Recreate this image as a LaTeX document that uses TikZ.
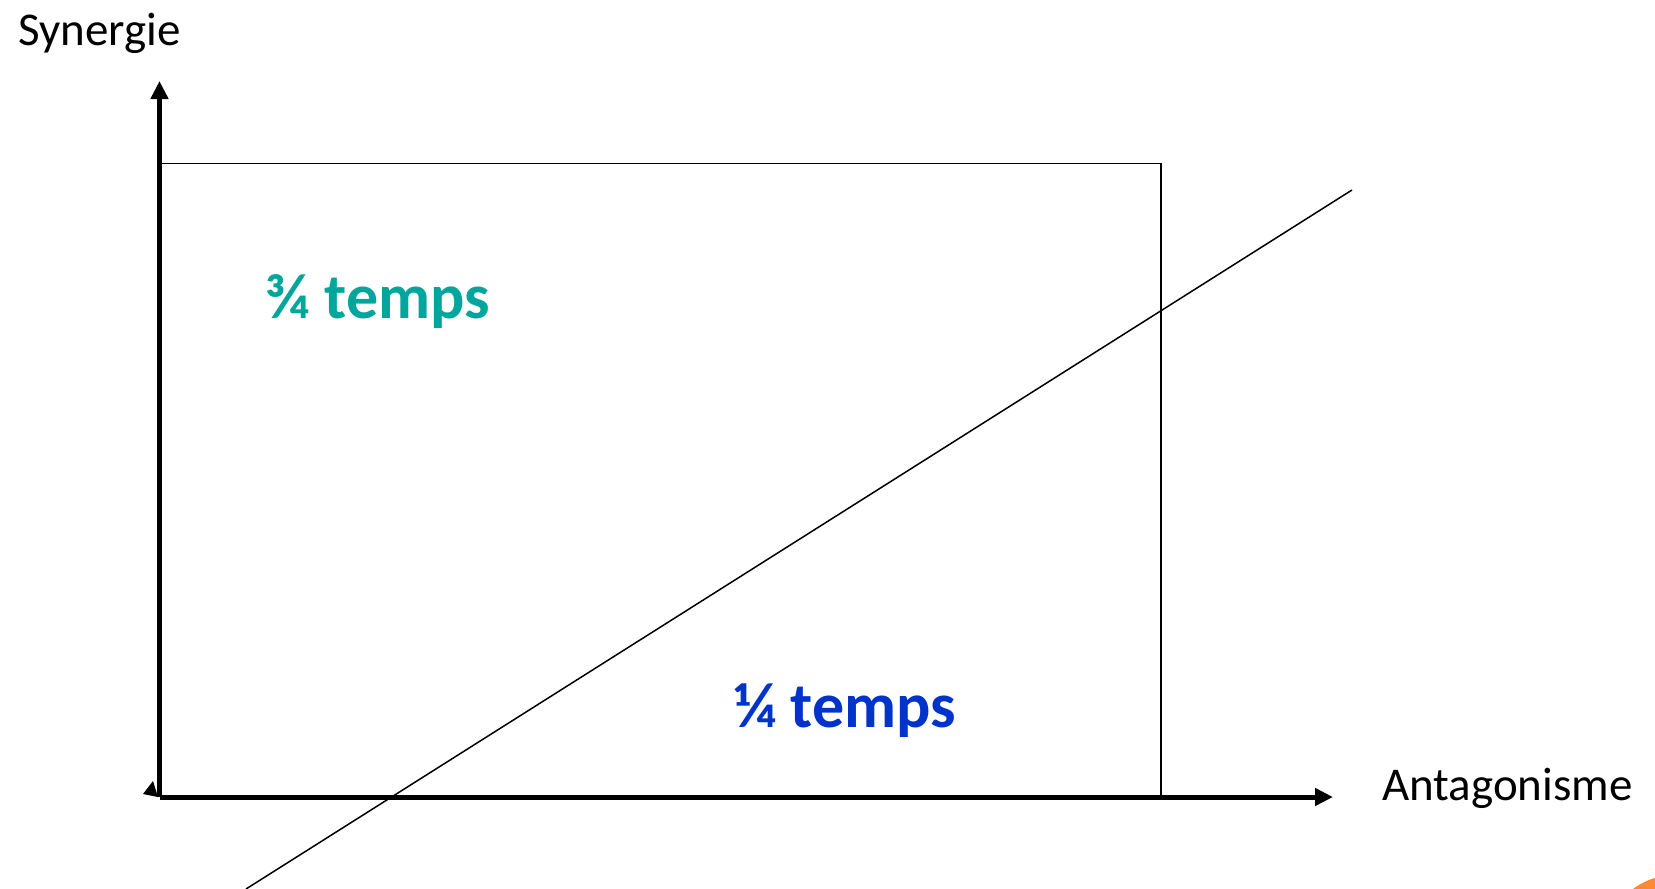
\documentclass[tikz,border=0pt]{standalone}
\usepackage{fontspec}
\setmainfont{Carlito}
\usetikzlibrary{arrows.meta}
\definecolor{tealtxt}{RGB}{0,166,156}
\definecolor{bluetxt}{RGB}{0,51,204}
\definecolor{orng}{RGB}{255,136,51}
\begin{document}
\begin{tikzpicture}[x=1pt,y=-1pt,
  axis/.style={line width=5pt, -{Triangle[length=18pt,width=17pt]}},
  thinline/.style={line width=1.5pt},
  lbl/.style={anchor=base west, inner sep=0pt, font=\fontsize{47}{56}\selectfont},
  fraclbl/.style={anchor=base west, inner sep=0pt, font=\fontsize{64}{76}\selectfont\bfseries}]
\useasboundingbox (0,0) rectangle (1655,889);
\begin{scope}
  \clip (0,0) rectangle (1655,889);
  \fill[orng] (1675,945) circle (70);
  \coordinate (D1) at (246,889);
  \coordinate (D2) at (1352,190);
  \draw[thinline] (D1) -- (D2);
\end{scope}
\coordinate (O) at (159.5,797);
\coordinate (Ytop) at (159.5,81);
\coordinate (Xend) at (1333,797);
\coordinate (R1) at (159.5,163.5);
\coordinate (R2) at (1161,163.5);
\coordinate (R3) at (1161,797);
\draw[thinline] (R3) -- (R2) -- (R1);
\draw[axis] (O) -- (Ytop);
\draw[axis] (O) -- (Xend);
\fill (143,794) -- (153,781) -- (158,797) -- cycle;
\node[lbl] (syn) at (18,45) {Synergie};
\node[lbl] (ant) at (1382,800) {Antagonisme};
\node[fraclbl, text=tealtxt] (tq) at (265,318) {¾ temps};
\node[fraclbl, text=bluetxt] (uq) at (734,727) {¼ temps};
\end{tikzpicture}
\end{document}
